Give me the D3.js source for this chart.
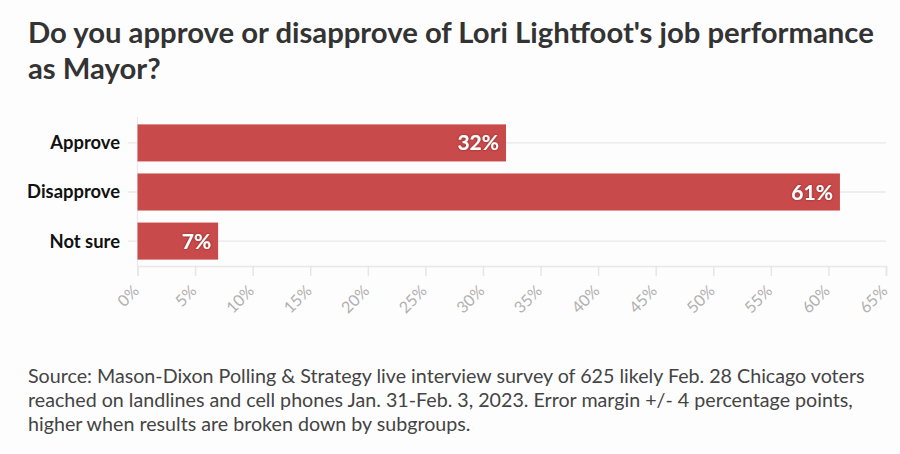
<!DOCTYPE html>
<html><head><meta charset="utf-8">
<script src="https://cdn.jsdelivr.net/npm/d3@7"></script>
<style>
html,body{margin:0;padding:0;background:#fdfdfd;}
svg{display:block;font-family:Lato,"Open Sans",sans-serif;}
</style></head>
<body>
<script>
const titleLines = ["Do you approve or disapprove of Lori Lightfoot's job performance", "as Mayor?"];
const categories = ["Approve", "Disapprove", "Not sure"];
const values = [32, 61, 7];
const tickValues = [0,5,10,15,20,25,30,35,40,45,50,55,60,65];
const footLines = [
  "Source: Mason-Dixon Polling & Strategy live interview survey of 625 likely Feb. 28 Chicago voters",
  "reached on landlines and cell phones Jan. 31-Feb. 3, 2023. Error margin +/- 4 percentage points,",
  "higher when results are broken down by subgroups."
];

const W = 900, H = 454;
const svg = d3.select("body").append("svg").attr("width", W).attr("height", H);
svg.append("rect").attr("width", W).attr("height", H).attr("fill", "#fdfdfd");

const defs = svg.append("defs");
const f = defs.append("filter").attr("id","sh").attr("x","-20%").attr("y","-30%").attr("width","140%").attr("height","160%");
f.append("feDropShadow").attr("dx",0).attr("dy",0).attr("stdDeviation",1.2).attr("flood-color","#7a1f1f").attr("flood-opacity",0.8);

function fit(sel, target){
  const w = sel.node().getComputedTextLength();
  const fs = parseFloat(sel.attr("font-size"));
  sel.attr("font-size", fs * target / w);
}

// Title
const tBase = [43, 79];
const tEls = titleLines.map((t,i)=>svg.append("text").attr("x", 28).attr("y", tBase[i]).attr("font-size", 28)
    .attr("font-weight", 700).attr("fill", "#333").text(t));
fit(tEls[0], 846);
tEls[1].attr("font-size", tEls[0].attr("font-size"));

const x = d3.scaleLinear().domain([0,65]).range([137.5, 886]);
const y = d3.scaleBand().domain(categories).range([118, 266]).paddingInner(0.245).paddingOuter(0.13);

// gridlines at category centers
svg.append("g").selectAll("line").data(categories).join("line")
  .attr("x1", 128).attr("x2", 886)
  .attr("y1", d=>y(d)+y.bandwidth()/2).attr("y2", d=>y(d)+y.bandwidth()/2)
  .attr("stroke", "#e8e8e8").attr("stroke-width", 1.3);

// y axis line
svg.append("line").attr("x1", 137.5).attr("x2", 137.5).attr("y1", 117).attr("y2", 266)
  .attr("stroke", "#e8e8e8").attr("stroke-width", 1.3);

// x axis
const xa = svg.append("g").attr("transform", "translate(0,266)")
  .call(d3.axisBottom(x).tickValues(tickValues).tickSize(10).tickFormat(d=>d+"%"));
xa.select(".domain").attr("stroke", "#e8e8e8").attr("stroke-width", 1.5);
xa.selectAll(".tick line").attr("stroke", "#e6e6e6").attr("stroke-width", 1.5);
xa.selectAll(".tick text").attr("fill", "#b0b0b0").attr("font-size", 16)
  .attr("font-family", "Lato, sans-serif")
  .attr("text-anchor", "end").attr("dy", null).attr("y", 0).attr("x", 0)
  .attr("transform", "translate(2,26) rotate(-45)");

// bars
svg.append("g").selectAll("rect").data(values).join("rect")
  .attr("x", x(0)).attr("y", (d,i)=>y(categories[i]))
  .attr("width", d=>x(d)-x(0)).attr("height", y.bandwidth())
  .attr("fill", "#c84a4a");

// value labels
svg.append("g").selectAll("text").data(values).join("text")
  .attr("x", d=>x(d)-7).attr("y", (d,i)=>y(categories[i])+y.bandwidth()/2)
  .attr("dy", "0.36em").attr("text-anchor", "end")
  .attr("font-size", 21).attr("font-weight", 700).attr("fill", "#fff")
  .attr("filter", "url(#sh)")
  .text(d=>d+"%");

// category labels
const cl = svg.append("g").selectAll("text").data(categories).join("text")
  .attr("x", 120).attr("y", d=>y(d)+y.bandwidth()/2).attr("dy", "0.35em")
  .attr("text-anchor", "end").attr("font-size", 16.5).attr("font-weight", 700)
  .attr("fill", "#111").text(d=>d);
{
  const el = cl.filter(d=>d==="Disapprove");
  const w = el.node().getComputedTextLength();
  cl.attr("font-size", 16.5*93/w);
}

// footnote
const fBase = [383, 407, 431];
const fn = footLines.map((t,i)=>svg.append("text").attr("x", 28).attr("y", fBase[i])
  .attr("font-size", 18).attr("fill", "#444").text(t));
{
  const w = fn[0].node().getComputedTextLength();
  const fs = 18*837/w;
  fn.forEach(e=>e.attr("font-size", fs));
}
</script>
</body></html>
